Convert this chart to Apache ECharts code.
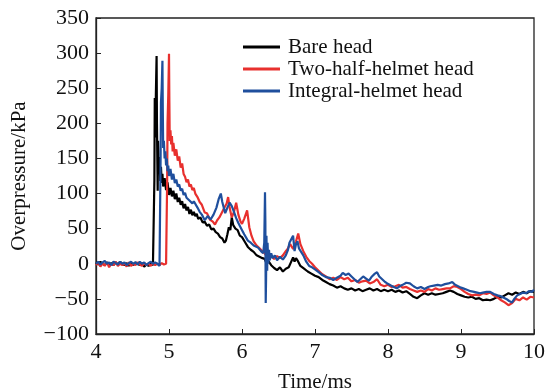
<!DOCTYPE html>
<html>
<head>
<meta charset="utf-8">
<script src="https://cdn.jsdelivr.net/npm/echarts@6/dist/echarts.min.js"></script>
<style>html,body{margin:0;padding:0;background:#fff;}#c{width:545px;height:391px;}</style>
</head>
<body>
<div id="c"></div>
<script>
var seriesNames = ['Bare head', 'Two-half-helmet head', 'Integral-helmet head'];
var xTicks = [4, 5, 6, 7, 8, 9, 10];
var yTicks = [-100, -50, 0, 50, 100, 150, 200, 250, 300, 350];

var bareHead = [
[4.00,2],[4.03,-1],[4.06,3],[4.09,0],[4.12,-2],[4.15,2],[4.18,-1],[4.21,1],[4.24,-2],[4.27,2],[4.30,-1],[4.33,3],[4.36,0],[4.39,-2],[4.42,1],[4.45,-3],[4.48,1],[4.51,-2],[4.54,2],[4.57,0],[4.60,-2],[4.63,1],[4.66,-4],[4.69,-1],[4.72,-3],[4.75,0],[4.78,-2],[4.795,-1],
[4.80,120],[4.805,236],[4.815,180],[4.82,240],[4.83,296],[4.835,200],[4.845,104],[4.85,175],[4.855,160],[4.86,128],[4.87,152],[4.88,118],[4.89,138],[4.90,115],[4.91,128],[4.92,110],[4.94,122],[4.96,105],[4.98,116],[5.00,98],[5.02,108],[5.04,96],[5.06,104],[5.08,92],[5.10,100],[5.12,88],[5.14,94],[5.16,84],[5.18,89],[5.20,79],[5.22,85],[5.24,76],[5.26,81],[5.28,71],[5.30,77],[5.32,69],[5.34,74],[5.36,68],[5.38,71],[5.40,64],[5.43,66],[5.46,59],[5.49,60],[5.52,54],[5.55,56],[5.58,49],[5.61,50],[5.64,45],[5.67,43],[5.70,38],[5.73,36],[5.76,30],[5.78,33],[5.80,42],[5.82,52],[5.84,48],[5.86,66],[5.88,55],[5.91,50],[5.94,48],[5.97,40],[6.00,38],[6.04,31],[6.08,24],[6.12,20],[6.16,17],[6.20,12],[6.24,10],[6.28,8],[6.31,7],[6.33,2],[6.36,4],[6.40,-2],[6.44,-6],[6.48,-9],[6.52,-5],[6.56,-11],[6.60,-7],[6.64,-5],[6.67,2],[6.70,9],[6.72,3],[6.74,8],[6.76,5],[6.80,-3],[6.85,-7],[6.90,-11],[6.95,-14],[7.00,-17],[7.05,-19],[7.10,-23],[7.15,-26],[7.20,-29],[7.25,-31],[7.30,-34],[7.35,-32],[7.40,-35],[7.45,-37],[7.50,-35],[7.55,-38],[7.60,-36],[7.65,-39],[7.70,-37],[7.75,-35],[7.80,-38],[7.85,-36],[7.90,-39],[7.95,-37],[8.00,-39],[8.05,-37],[8.10,-40],[8.15,-38],[8.20,-41],[8.25,-39],[8.30,-43],[8.35,-47],[8.40,-49],[8.45,-45],[8.50,-42],[8.55,-44],[8.60,-42],[8.65,-44],[8.70,-43],[8.75,-42],[8.80,-40],[8.85,-38],[8.90,-40],[8.95,-43],[9.00,-45],[9.05,-47],[9.10,-48],[9.15,-47],[9.20,-50],[9.25,-49],[9.30,-52],[9.35,-51],[9.40,-52],[9.45,-50],[9.50,-47],[9.55,-48],[9.60,-45],[9.65,-42],[9.70,-44],[9.75,-41],[9.80,-43],[9.85,-40],[9.90,-42],[9.95,-39],[10.0,-40]
];

var twoHalfHelmet = [
[4.00,-2],[4.03,2],[4.06,-4],[4.09,1],[4.12,-3],[4.15,2],[4.18,-5],[4.21,0],[4.24,-2],[4.27,3],[4.30,-3],[4.33,0],[4.36,-2],[4.39,1],[4.42,-4],[4.45,2],[4.48,-3],[4.51,0],[4.54,-2],[4.57,2],[4.60,-1],[4.63,-3],[4.66,1],[4.69,-2],[4.72,0],[4.75,-3],[4.78,1],[4.81,-2],[4.84,0],[4.87,-2],[4.90,1],[4.93,-1],[4.96,0],[4.97,2],
[4.975,120],[4.98,200],[4.99,240],[5.00,299],[5.005,230],[5.01,175],[5.02,190],[5.03,170],[5.04,182],[5.05,160],[5.06,172],[5.08,154],[5.10,163],[5.12,147],[5.14,153],[5.16,137],[5.18,143],[5.20,128],[5.22,124],[5.24,116],[5.26,120],[5.28,110],[5.30,113],[5.32,105],[5.34,108],[5.36,100],[5.39,95],[5.42,88],[5.45,84],[5.49,73],[5.52,72],[5.56,63],[5.60,60],[5.63,56],[5.66,62],[5.69,66],[5.72,72],[5.76,80],[5.79,86],[5.81,95],[5.83,80],[5.86,66],[5.89,74],[5.92,87],[5.95,70],[5.98,60],[6.00,57],[6.03,64],[6.07,76],[6.10,52],[6.13,40],[6.16,32],[6.20,26],[6.24,22],[6.27,19],[6.30,16],[6.33,12],[6.36,9],[6.40,11],[6.44,7],[6.48,11],[6.52,8],[6.56,12],[6.60,18],[6.63,22],[6.66,28],[6.70,21],[6.74,32],[6.77,43],[6.80,28],[6.84,18],[6.88,10],[6.92,4],[6.96,0],[7.00,-5],[7.05,-10],[7.10,-15],[7.15,-18],[7.20,-22],[7.25,-20],[7.30,-23],[7.35,-19],[7.40,-22],[7.45,-20],[7.50,-25],[7.55,-23],[7.60,-27],[7.65,-25],[7.70,-24],[7.75,-28],[7.80,-26],[7.85,-22],[7.90,-30],[7.95,-32],[8.00,-30],[8.05,-33],[8.10,-32],[8.15,-30],[8.20,-34],[8.25,-33],[8.30,-36],[8.35,-38],[8.40,-40],[8.45,-38],[8.50,-40],[8.55,-36],[8.60,-38],[8.65,-35],[8.70,-37],[8.75,-36],[8.80,-35],[8.85,-35],[8.90,-32],[8.95,-33],[9.00,-36],[9.05,-40],[9.10,-43],[9.15,-45],[9.20,-44],[9.25,-45],[9.30,-42],[9.35,-43],[9.40,-41],[9.45,-45],[9.50,-48],[9.55,-52],[9.60,-55],[9.65,-59],[9.70,-56],[9.75,-50],[9.80,-52],[9.85,-48],[9.90,-51],[9.95,-47],[10.0,-48]
];

var integralHelmet = [
[4.00,0],[4.03,3],[4.06,-1],[4.09,2],[4.12,4],[4.15,0],[4.18,2],[4.21,-2],[4.24,3],[4.27,1],[4.30,-1],[4.33,3],[4.36,0],[4.39,2],[4.42,-2],[4.45,1],[4.48,3],[4.51,0],[4.54,2],[4.57,-1],[4.60,3],[4.63,0],[4.66,2],[4.69,-2],[4.72,1],[4.75,3],[4.78,0],[4.81,2],[4.84,0],[4.87,-3],[4.88,-5],
[4.885,150],[4.89,230],[4.90,250],[4.91,289],[4.915,220],[4.92,165],[4.93,175],[4.94,150],[4.95,160],[4.96,140],[4.97,150],[4.98,132],[4.99,140],[5.00,125],[5.02,135],[5.04,120],[5.06,128],[5.08,115],[5.10,120],[5.12,110],[5.14,113],[5.16,104],[5.18,107],[5.20,98],[5.22,101],[5.24,94],[5.26,96],[5.28,90],[5.30,92],[5.32,86],[5.34,89],[5.36,88],[5.39,80],[5.42,74],[5.45,70],[5.49,62],[5.53,68],[5.57,63],[5.61,70],[5.65,80],[5.68,92],[5.71,100],[5.73,88],[5.77,72],[5.80,80],[5.83,87],[5.86,82],[5.89,74],[5.92,65],[5.95,58],[5.99,50],[6.03,42],[6.08,33],[6.12,30],[6.16,26],[6.22,23],[6.26,18],[6.29,15],[6.305,30],[6.315,102],[6.32,60],[6.325,-56],[6.33,-20],[6.335,40],[6.34,8],[6.345,-10],[6.35,30],[6.36,0],[6.37,20],[6.38,5],[6.40,15],[6.42,8],[6.45,12],[6.48,5],[6.52,10],[6.56,6],[6.60,12],[6.63,20],[6.65,30],[6.68,36],[6.70,40],[6.72,18],[6.74,28],[6.76,32],[6.78,22],[6.80,23],[6.84,12],[6.88,3],[6.92,-3],[6.96,-5],[7.00,-8],[7.05,-12],[7.10,-16],[7.15,-19],[7.20,-20],[7.25,-23],[7.30,-20],[7.35,-17],[7.38,-13],[7.42,-16],[7.46,-14],[7.50,-18],[7.54,-22],[7.58,-26],[7.62,-22],[7.66,-18],[7.70,-21],[7.74,-24],[7.78,-18],[7.82,-14],[7.85,-12],[7.88,-18],[7.92,-22],[7.96,-26],[7.99,-28],[8.04,-31],[8.08,-33],[8.12,-35],[8.16,-32],[8.20,-30],[8.25,-27],[8.30,-28],[8.35,-32],[8.40,-35],[8.45,-33],[8.50,-36],[8.55,-33],[8.58,-32],[8.63,-31],[8.68,-30],[8.73,-31],[8.78,-29],[8.83,-28],[8.88,-26],[8.92,-30],[8.96,-32],[9.00,-34],[9.03,-35],[9.08,-37],[9.13,-39],[9.18,-40],[9.22,-41],[9.26,-42],[9.30,-41],[9.35,-40],[9.40,-40],[9.45,-43],[9.50,-45],[9.54,-46],[9.58,-48],[9.62,-50],[9.66,-53],[9.70,-55],[9.73,-50],[9.77,-45],[9.81,-43],[9.85,-41],[9.89,-42],[9.93,-39],[9.97,-40],[10.0,-37]
];

var font = "'Liberation Serif','Times New Roman',serif";
var chart = echarts.init(document.getElementById('c'), null, {renderer: 'canvas'});
var colors = ['#000000', '#e8302e', '#1f4f9d'];
var seriesData = [bareHead, twoHalfHelmet, integralHelmet];
chart.setOption({
  animation: false,
  backgroundColor: '#fff',
  grid: {left: 96, right: 11, top: 18, bottom: 57, containLabel: false, outerBoundsMode: 'none',
    show: true, borderColor: '#222', borderWidth: 1.3, backgroundColor: 'transparent'},
  legend: {
    left: 238, top: 31, orient: 'vertical',
    itemWidth: 37, itemHeight: 3, itemGap: 0,
    icon: 'rect',
    textStyle: {fontFamily: font, fontSize: 21, color: '#111', lineHeight: 22, padding: [0, 0, 0, 3]},
    data: seriesNames
  },
  xAxis: {
    type: 'value', min: xTicks[0], max: xTicks[xTicks.length - 1], interval: 1,
    name: 'Time/ms', nameLocation: 'middle', nameGap: 38,
    nameTextStyle: {fontFamily: font, fontSize: 21, color: '#111'},
    axisLine: {show: true, onZero: false, lineStyle: {color: '#222', width: 1.3}},
    axisTick: {show: true, inside: true, length: 5, lineStyle: {color: '#222'}},
    axisLabel: {fontFamily: font, fontSize: 22, color: '#111', margin: 7},
    splitLine: {show: false}
  },
  yAxis: {
    type: 'value', min: yTicks[0], max: yTicks[yTicks.length - 1], interval: 50,
    name: 'Overpressure/kPa', nameLocation: 'middle', nameGap: 66, nameRotate: 90,
    nameTextStyle: {fontFamily: font, fontSize: 21, color: '#111'},
    axisLine: {show: true, onZero: false, lineStyle: {color: '#222', width: 1.3}},
    axisTick: {show: true, inside: true, length: 5, lineStyle: {color: '#222'}},
    axisLabel: {fontFamily: font, fontSize: 22, color: '#111', margin: 7,
      formatter: function (v) { return String(v).replace('-', '\u2212'); }},
    splitLine: {show: false}
  },
  series: seriesNames.map(function (n, i) {
    return {
      name: n, type: 'line', data: seriesData[i], showSymbol: false, symbol: 'none',
      color: colors[i], lineStyle: {width: 2.2, color: colors[i]}, z: 2 + i
    };
  })
});
</script>
</body>
</html>
